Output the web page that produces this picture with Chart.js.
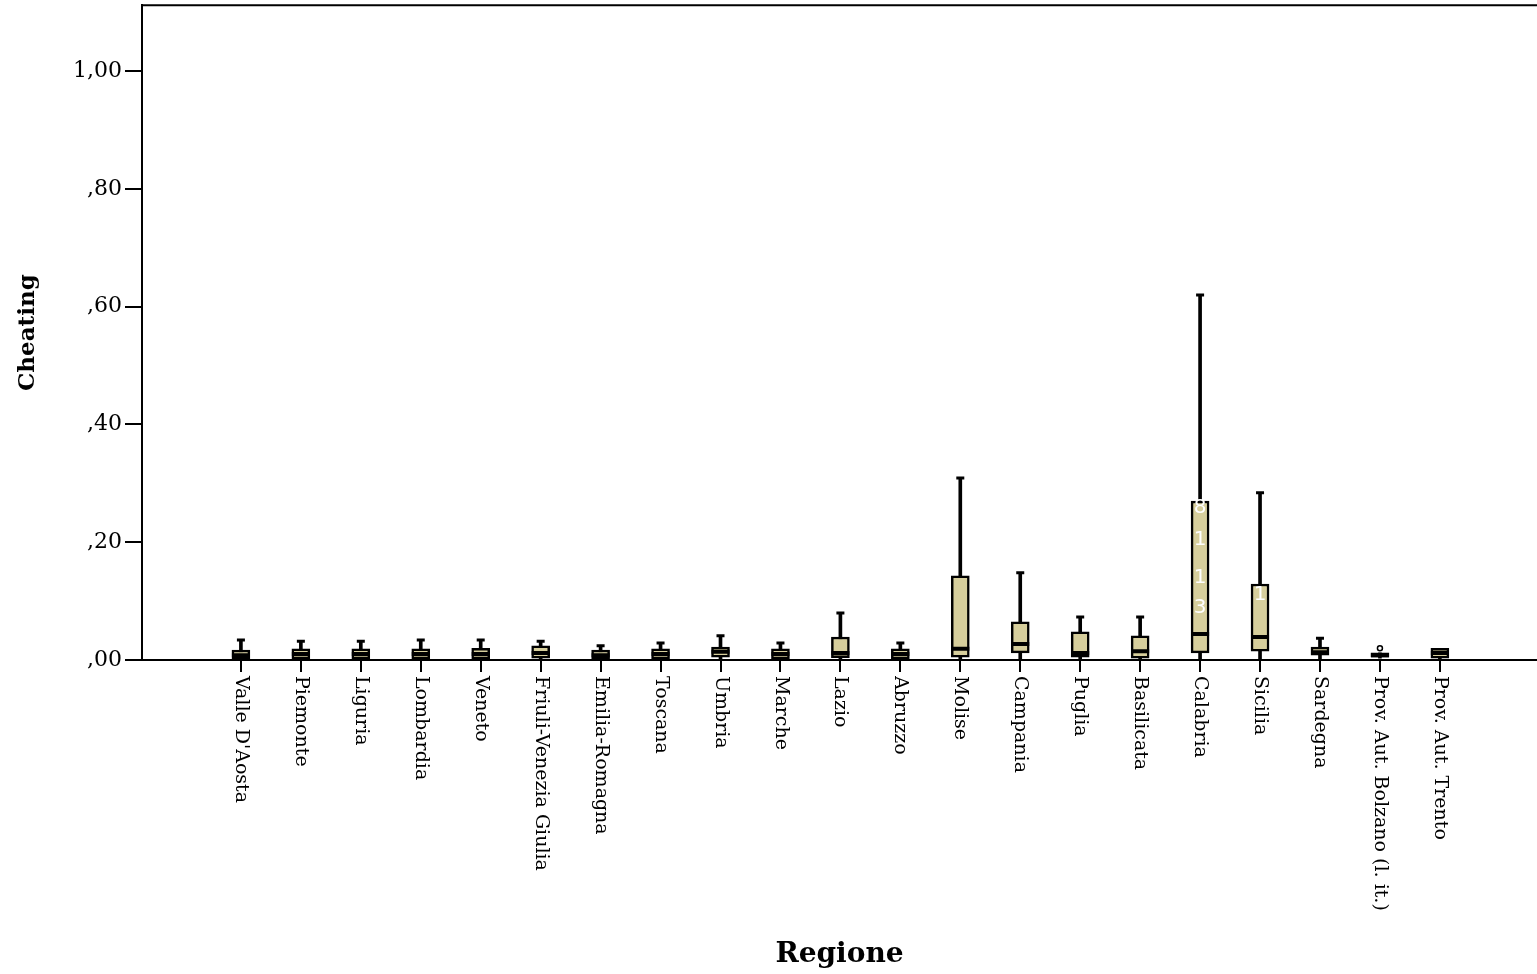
<!DOCTYPE html>
<html>
<head>
<meta charset="utf-8">
<script src="https://cdn.jsdelivr.net/npm/chart.js@4.4.1/dist/chart.umd.min.js"></script>
<style>
  html, body { margin: 0; padding: 0; background: #fff; overflow: hidden; }
  #wrap { width: 1537px; height: 974px; position: relative; overflow: hidden; }
  #boxChart { position: absolute; left: 0; top: -11px; }
</style>
</head>
<body>
<div id="wrap"><canvas id="boxChart" width="1550" height="985"></canvas></div>
<script>
const regions = ["Valle D'Aosta", "Piemonte", "Liguria", "Lombardia", "Veneto", "Friuli-Venezia Giulia",
    "Emilia-Romagna", "Toscana", "Umbria", "Marche", "Lazio", "Abruzzo", "Molise", "Campania",
    "Puglia", "Basilicata", "Calabria", "Sicilia", "Sardegna", "Prov. Aut. Bolzano (l. it.)", "Prov. Aut. Trento"];

// box plot values
const whiskerLow  = [0, 0, 0, 0, 0, 0, 0, 0, 0, 0, 0, 0, 0, 0, 0, 0, 0, 0, 0, 0.003, 0.002];
const q1          = [0.002, 0.002, 0.002, 0.002, 0.002, 0.003, 0.002, 0.002, 0.005, 0.002, 0.004, 0.002, 0.005, 0.012, 0.005, 0.003, 0.012, 0.015, 0.008, 0.005, 0.003];
const medians     = [0.008, 0.010, 0.010, 0.010, 0.010, 0.012, 0.008, 0.010, 0.014, 0.010, 0.012, 0.010, 0.019, 0.027, 0.012, 0.015, 0.044, 0.039, 0.013, 0.008, 0.012];
const q3          = [0.017, 0.019, 0.019, 0.019, 0.020, 0.024, 0.017, 0.019, 0.022, 0.019, 0.039, 0.019, 0.143, 0.065, 0.048, 0.041, 0.270, 0.129, 0.022, 0.012, 0.020];
const whiskerHigh = [0.034, 0.032, 0.032, 0.034, 0.034, 0.032, 0.024, 0.029, 0.041, 0.029, 0.080, 0.029, 0.309, 0.148, 0.073, 0.073, 0.620, 0.284, 0.037, 0.012, 0.020];
const outliers = [{ x: 19, y: 0.020 }];
// case labels (white in the original)
const caseIdx = [16, 16, 16, 16, 17];
const caseVal = [0.258, 0.204, 0.139, 0.088, 0.110];
const caseText = ['8', '1', '1', '3', '1'];
const yTicks = [0, 0.2, 0.4, 0.6, 0.8, 1.0];

const boxFill = '#d6ce9c';
const serif = "'DejaVu Serif', 'Liberation Serif', serif";

function fmt(v) {
    let s = v.toFixed(2).replace('.', ',');
    if (s.startsWith('0')) s = s.slice(1);
    return s;
}

const whiskerData = regions.map((r, i) => ({ x: i, y: [whiskerLow[i], whiskerHigh[i]] }));
const boxData = regions.map((r, i) => ({ x: i, y: [q1[i], q3[i]] }));
const medianData = regions.map((r, i) => ({ x: i, y: medians[i] }));
const capData = regions.map((r, i) => ({ x: i, y: whiskerHigh[i] > q3[i] ? whiskerHigh[i] : null }));

// labels and the top frame line
const extras = {
    id: 'extras',
    afterDraw(chart) {
        const ctx = chart.ctx;
        const xs = chart.scales.x;
        const ys = chart.scales.y;
        const area = chart.chartArea;
        ctx.save();
        ctx.strokeStyle = '#000';
        ctx.lineWidth = 2;
        ctx.beginPath();
        ctx.moveTo(area.left, area.top);
        ctx.lineTo(area.right, area.top);
        ctx.stroke();

        ctx.fillStyle = '#fff';
        ctx.font = '20px "DejaVu Sans", sans-serif';
        ctx.textAlign = 'center';
        ctx.textBaseline = 'middle';
        caseIdx.forEach((c, k) => {
            ctx.fillText(caseText[k], xs.getPixelForValue(c), ys.getPixelForValue(caseVal[k]));
        });

        ctx.fillStyle = '#000';
        ctx.font = '19px ' + serif;
        ctx.textAlign = 'left';
        ctx.textBaseline = 'middle';
        regions.forEach((r, i) => {
            const px = xs.getPixelForValue(i);
            ctx.save();
            ctx.translate(px, area.bottom + 16);
            ctx.rotate(Math.PI / 2);
            ctx.fillText(r, 0, 0);
            ctx.restore();
        });
        ctx.restore();
    }
};

new Chart(document.getElementById('boxChart'), {
    type: 'bar',
    data: {
        datasets: [
            {
                label: 'whisker', data: whiskerData, backgroundColor: '#000',
                barThickness: 3, grouped: false, order: 4
            },
            {
                label: 'box', data: boxData, backgroundColor: boxFill, borderColor: '#000',
                borderWidth: 2.5, borderSkipped: false, barThickness: 18, grouped: false, order: 3
            },
            {
                type: 'line', label: 'median', data: medianData, showLine: false,
                pointStyle: 'line', pointRadius: 9, borderColor: '#000', borderWidth: 4, order: 2
            },
            {
                type: 'line', label: 'cap', data: capData, showLine: false,
                pointStyle: 'line', pointRadius: 4, borderColor: '#000', borderWidth: 3, order: 1
            },
            {
                type: 'line', label: 'outlier', data: outliers, showLine: false,
                pointStyle: 'circle', pointRadius: 2.5, backgroundColor: '#fff',
                borderColor: '#000', borderWidth: 1.5, order: 0
            }
        ]
    },
    options: {
        responsive: false,
        animation: false,
        layout: { padding: 0 },
        plugins: { legend: { display: false }, tooltip: { enabled: false } },
        scales: {
            x: {
                type: 'linear',
                offset: false,
                min: -1.65,
                max: 21.62,
                afterBuildTicks(scale) { scale.ticks = regions.map((r, i) => ({ value: i })); },
                afterFit(scale) { scale.height = 314; },
                ticks: { display: false },
                grid: { offset: false, drawOnChartArea: false, tickLength: 12, color: '#000', lineWidth: 2 },
                border: { color: '#000', width: 2 },
                title: {
                    display: true, text: 'Regione', color: '#000',
                    font: { family: serif, size: 28, weight: 'bold' }, padding: { top: 0, bottom: 2 }
                }
            },
            y: {
                min: 0,
                max: 1.112,
                afterBuildTicks(scale) { scale.ticks = yTicks.map(v => ({ value: v })); },
                afterFit(scale) { scale.width = 142; },
                ticks: {
                    color: '#000', padding: 3,
                    font: { family: serif, size: 22 },
                    callback: v => fmt(v)
                },
                grid: { drawOnChartArea: false, tickLength: 17, color: '#000', lineWidth: 2 },
                border: { color: '#000', width: 2 },
                title: {
                    display: true, text: 'Cheating', color: '#000',
                    font: { family: serif, size: 23, weight: 'bold' }, padding: { top: 14, bottom: 0 }
                }
            }
        }
    },
    plugins: [extras]
});
</script>
</body>
</html>
